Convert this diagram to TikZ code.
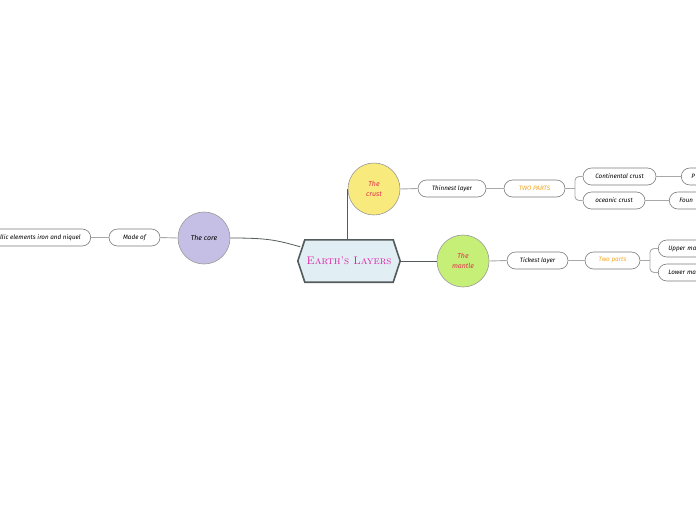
\documentclass[tikz,border=0pt]{standalone}
\usepackage{fontspec}
\newfontfamily\pillfont{Fira Sans}
\usetikzlibrary{calc}
\definecolor{hexfill}{HTML}{E1EEF3}
\definecolor{hexdraw}{HTML}{535B5D}
\definecolor{titlec}{HTML}{E020A8}
\definecolor{crustc}{HTML}{F8EA7C}
\definecolor{corec}{HTML}{C6BFE5}
\definecolor{mantlec}{HTML}{C6EF78}
\definecolor{redtxt}{HTML}{E0304C}
\definecolor{orangetxt}{HTML}{F5A623}
\definecolor{mainline}{HTML}{555B5D}
\definecolor{subline}{HTML}{A8A8A8}
\definecolor{pillline}{HTML}{7A7A7A}
\tikzset{
  topic/.style={circle, minimum size=52pt, inner sep=0pt, draw=black!40, line width=0.6pt,
    align=center, font=\pillfont\itshape\fontsize{7}{9}\selectfont},
  pill/.style={rounded corners=8.5pt, draw=pillline, line width=0.6pt, minimum height=17pt,
    inner xsep=4pt, inner ysep=0pt, font=\pillfont\itshape\fontsize{6.3}{8}\selectfont},
  cutpill/.style={pill, anchor=west, align=left, inner xsep=10pt},
  mainconn/.style={draw=mainline, line width=0.8pt},
  subconn/.style={draw=subline, line width=0.9pt},
}
\begin{document}
\begin{tikzpicture}[x=1pt,y=-1pt]
\useasboundingbox (0,0) rectangle (696,520);
\clip (0,0) rectangle (696,520);
\fill[white] (0,0) rectangle (696,520);

% central topic
\node (earth) [minimum width=102pt, minimum height=42pt, inner sep=0pt] at (349,261) {};
\draw[fill=hexfill, draw=hexdraw, line width=1.6pt]
  (earth.west) -- ($(earth.north west)+(7,0)$) -- ($(earth.north east)+(-7,0)$)
  -- (earth.east) -- ($(earth.south east)+(-7,0)$) -- ($(earth.south west)+(7,0)$) -- cycle;
\node[text=titlec, font=\scshape\fontsize{11}{12}\selectfont] at (earth) {Earth's Layers};
\coordinate (eL) at ($(earth.north west)+(2.5,7)$);

% main topics
\node[topic, fill=crustc, text=redtxt] (crust) at (374,189) {The\\[1pt]crust};
\node[topic, fill=corec] (core) at (204,238) {The core};
\node[topic, fill=mantlec, text=redtxt] (mantle) at (463,261) {The\\[1pt]mantle};

\draw[mainconn] (crust.west) -- (crust.west |- earth.north);
\draw[mainconn] (core.east) .. controls (268,238) and (276,240) .. (eL);
\draw[mainconn] (earth.east) -- (mantle.west);

% crust branch
\node[pill, minimum width=68pt] (thin) at (452,188.5) {Thinnest layer};
\node[pill, minimum width=61pt, text=orangetxt] (tp1) at (534.5,188.5) {TWO PARTS};
\node[pill, minimum width=73pt] (cont) at (619.5,176.5) {Continental crust};
\node[pill, minimum width=62pt] (ocea) at (614,200.5) {oceanic crust};
\node[cutpill, text width=30pt] (pp) at (681,176.5) {P};
\node[cutpill, text width=30pt] (foun) at (669,200.5) {Foun};
\coordinate (b1) at (575,188.5);
\draw[subconn] (crust.east) -- (thin.west);
\draw[subconn] (thin.east) -- (tp1.west);
\draw[subconn] (tp1.east) -- (b1);
\draw[subconn, rounded corners=4pt] (cont.west) -| (b1) |- (ocea.west);
\draw[subconn] (cont.east) -- (pp.west);
\draw[subconn] (ocea.east) -- (foun.west);

% mantle branch
\node[pill, minimum width=61pt] (tick) at (537.5,260.5) {Tickest layer};
\node[pill, minimum width=55pt, text=orangetxt] (tp2) at (612.5,260.5) {Two parts};
\node[cutpill, text width=50pt] (upper) at (658,248.5) {Upper mantle};
\node[cutpill, text width=50pt] (lower) at (658,272.5) {Lower mantle};
\coordinate (b2) at (650,260.5);
\draw[subconn] (mantle.east) -- (tick.west);
\draw[subconn] (tick.east) -- (tp2.west);
\draw[subconn] (tp2.east) -- (b2);
\draw[subconn, rounded corners=4pt] (upper.west) -| (b2) |- (lower.west);

% core branch
\node[pill, minimum width=51pt] (made) at (134.5,237.5) {Made of};
\node[pill, anchor=east, align=right, inner xsep=10pt] (metal) at (91,237.5) {Metallic elements iron and niquel};
\draw[subconn] (core.west) -- (made.east);
\draw[subconn] (made.west) -- (metal.east);
\end{tikzpicture}
\end{document}
